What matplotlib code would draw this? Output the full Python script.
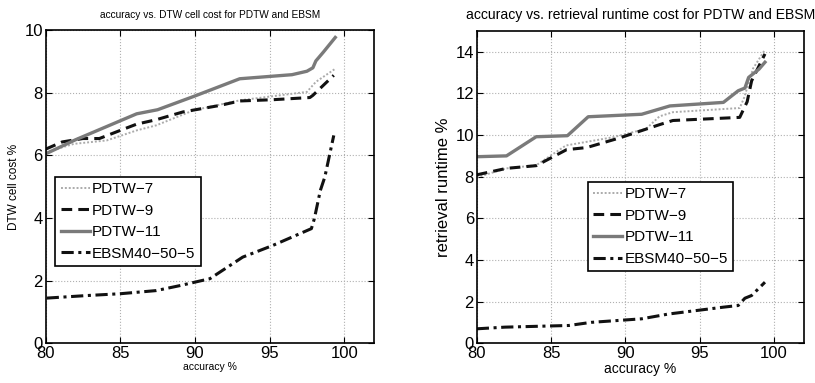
import matplotlib
matplotlib.use('Agg')
import matplotlib.pyplot as plt

plt.rcParams['font.family'] = ['Liberation Sans', 'DejaVu Sans']

# left panel: accuracy vs DTW cell cost
cell_p7_x = [80, 81.9, 84.1, 86.1, 87.4, 89.9, 93.0, 97.5, 98.1, 99.4]
cell_p7_y = [6.1, 6.37, 6.48, 6.8, 6.96, 7.44, 7.76, 8.03, 8.35, 8.77]
cell_p9_x = [80, 81.1, 82.5, 83.6, 85.0, 86.1, 87.4, 89.2, 91.7, 93.0, 95.2, 97.7, 97.9, 99.3]
cell_p9_y = [6.2, 6.43, 6.54, 6.54, 6.8, 7.0, 7.14, 7.39, 7.6, 7.74, 7.78, 7.85, 7.92, 8.56]
cell_p11_x = [80, 82.0, 86.1, 87.5, 90.0, 93.0, 96.5, 97.5, 97.9, 98.1, 98.6, 99.4]
cell_p11_y = [6.05, 6.5, 7.33, 7.46, 7.9, 8.45, 8.58, 8.69, 8.8, 9.02, 9.3, 9.77]
cell_ebsm_x = [80.07, 82.7, 85.0, 87.4, 89.0, 91.0, 93.2, 95.2, 97.8, 98.0, 98.4, 98.7, 99.3]
cell_ebsm_y = [1.44, 1.52, 1.58, 1.68, 1.84, 2.06, 2.75, 3.12, 3.66, 3.98, 4.88, 5.31, 6.64]

# right panel: accuracy vs retrieval runtime
rt_p7_x = [80, 82.0, 84.0, 86.0, 89.2, 91.4, 92.3, 93.2, 97.7, 98.0, 98.6, 99.4]
rt_p7_y = [7.97, 8.4, 8.55, 9.5, 9.9, 10.3, 10.9, 11.1, 11.3, 11.8, 13.2, 14.1]
rt_p9_x = [80, 82.0, 84.0, 86.05, 87.4, 89.6, 92.3, 93.2, 97.7, 98.2, 98.5, 99.4]
rt_p9_y = [8.09, 8.4, 8.53, 9.3, 9.4, 9.86, 10.5, 10.7, 10.85, 11.6, 12.6, 13.9]
rt_p11_x = [80, 82.0, 84.0, 86.1, 87.5, 91.1, 93.0, 96.6, 97.6, 98.05, 98.3, 99.0, 99.4]
rt_p11_y = [8.96, 9.0, 9.92, 9.97, 10.88, 11.0, 11.4, 11.57, 12.13, 12.26, 12.77, 13.17, 13.5]
rt_ebsm_x = [80, 81.9, 86.2, 87.7, 91.1, 92.9, 96.6, 97.6, 98.05, 98.5, 99.4]
rt_ebsm_y = [0.69, 0.77, 0.85, 1.0, 1.17, 1.4, 1.73, 1.81, 2.16, 2.29, 2.93]

labels = ['PDTW\u22127', 'PDTW\u22129', 'PDTW\u221211', 'EBSM40\u221250\u22125']

fig = plt.figure(figsize=(8.15, 3.83), dpi=100)
ax1 = fig.add_axes([0.056, 0.104, 0.403, 0.817])
ax2 = fig.add_axes([0.585, 0.104, 0.401, 0.815])


def draw(ax, series, ymax, legend_box, title, fs_title, fs_x, ylabel, fs_y):
    (x7, y7), (x9, y9), (x11, y11), (xe, ye) = series
    ax.plot(x7, y7, color='#ababab', lw=1.4, ls=(0, (1, 1)), label=labels[0])
    ax.plot(x9, y9, color='#111111', lw=2.2, ls=(0, (3.5, 2)), label=labels[1])
    ax.plot(x11, y11, color='#7a7a7a', lw=2.4, ls='-', label=labels[2])
    ax.plot(xe, ye, color='#111111', lw=2.2, ls=(0, (4, 1.5, 1, 1.5)), label=labels[3])
    ax.set_xlim(80, 102)
    ax.set_ylim(0, ymax)
    ax.set_xticks([80, 85, 90, 95, 100])
    ax.set_yticks(range(0, ymax + 1, 2))
    ax.grid(True, color='#b0b0b0', ls=':', lw=0.8)
    ax.tick_params(direction='in', top=True, right=True, labelsize=12, length=4, pad=2)
    for s in ax.spines.values():
        s.set_linewidth(1.2)
    ax.set_title(title, fontsize=fs_title, pad=9)
    ax.set_xlabel('accuracy %', fontsize=fs_x, labelpad=1)
    ax.set_ylabel(ylabel, fontsize=fs_y, labelpad=3)
    leg = ax.legend(loc='lower left', bbox_to_anchor=legend_box, fontsize=11,
                    fancybox=False, edgecolor='black', framealpha=1,
                    handlelength=1.9, handletextpad=0.15, borderpad=0.35,
                    labelspacing=0.5, borderaxespad=0)
    leg.get_frame().set_linewidth(1.2)


draw(ax1, [(cell_p7_x, cell_p7_y), (cell_p9_x, cell_p9_y),
           (cell_p11_x, cell_p11_y), (cell_ebsm_x, cell_ebsm_y)],
     10, (0.03, 0.246), 'accuracy vs. DTW cell cost for PDTW and EBSM', 7.3, 7.5,
     'DTW cell cost %', 8.5)
draw(ax2, [(rt_p7_x, rt_p7_y), (rt_p9_x, rt_p9_y),
           (rt_p11_x, rt_p11_y), (rt_ebsm_x, rt_ebsm_y)],
     15, (0.34, 0.23), 'accuracy vs. retrieval runtime cost for PDTW and EBSM', 10.1, 10,
     'retrieval runtime %', 12)
ax2.set_yticks(range(0, 15, 2))

fig.savefig('out.png', dpi=100)
